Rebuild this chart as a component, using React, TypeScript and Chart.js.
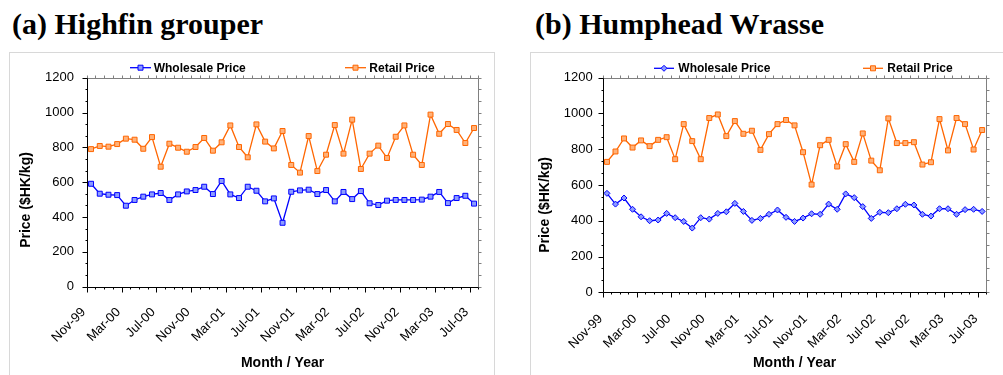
import React, { useEffect, useRef } from "react";
import { Chart, registerables } from "chart.js";

Chart.register(...registerables);

// ---------------- DATA ----------------
const months = [
  "Nov-99", "Dec-99",
  "Jan-00", "Feb-00", "Mar-00", "Apr-00", "May-00", "Jun-00", "Jul-00", "Aug-00", "Sep-00", "Oct-00", "Nov-00", "Dec-00",
  "Jan-01", "Feb-01", "Mar-01", "Apr-01", "May-01", "Jun-01", "Jul-01", "Aug-01", "Sep-01", "Oct-01", "Nov-01", "Dec-01",
  "Jan-02", "Feb-02", "Mar-02", "Apr-02", "May-02", "Jun-02", "Jul-02", "Aug-02", "Sep-02", "Oct-02", "Nov-02", "Dec-02",
  "Jan-03", "Feb-03", "Mar-03", "Apr-03", "May-03", "Jun-03", "Jul-03",
];

const grouperWholesale = [
  591, 534, 528, 526, 465, 498, 517, 530, 538, 498,
  530, 547, 555, 574, 532, 607, 530, 509, 574, 551,
  490, 507, 367, 545, 553, 557, 532, 555, 490, 544,
  503, 549, 479, 469, 494, 498, 498, 498, 500, 517,
  544, 480, 509, 522, 477,
];

const grouperRetail = [
  790, 808, 804, 819, 850, 844, 792, 859, 689, 821,
  798, 775, 802, 854, 781, 829, 926, 802, 743, 932,
  833, 794, 894, 699, 655, 865, 664, 758, 928, 764,
  959, 676, 764, 810, 739, 861, 926, 758, 699, 988,
  878, 934, 900, 825, 911,
];

const wrasseWholesale = [
  553, 493, 527, 464, 422, 400, 404, 441, 417, 396,
  359, 417, 409, 441, 450, 497, 452, 402, 413, 436,
  460, 419, 396, 415, 439, 436, 493, 464, 550, 529,
  479, 413, 447, 445, 467, 492, 488, 436, 426, 467,
  467, 436, 462, 464, 452,
];

const wrasseRetail = [
  729, 787, 860, 809, 849, 817, 852, 867, 744, 940,
  845, 744, 974, 994, 873, 957, 886, 903, 796, 884,
  940, 963, 933, 783, 602, 822, 852, 703, 828, 729,
  888, 736, 682, 972, 834, 834, 839, 714, 727, 968,
  793, 974, 940, 798, 907,
];

const seriesNames = ["Wholesale Price", "Retail Price"];
const yAxisTitle = "Price ($HK/kg)";
const xAxisTitle = "Month / Year";
const yMin = 0;
const yMax = 1200;
const yStep = 200;
const labelEvery = 4;

// ---------------- STYLE ----------------
const BLUE = "#0000FF";
const BLUE_FILL = "#8C9CFF";
const ORANGE = "#FF6600";
const ORANGE_FILL = "#FFB27A";
const SANS = '"Liberation Sans", Arial, sans-serif';
const SERIF = '"Liberation Serif", "Times New Roman", serif';

type LegendItem = { x1: number; x2: number; tx: number; text: string; color: string; fill: string; style: string };

const framePlugin = {
  id: "frame",
  afterDraw(chart: any, _args: any, opts: any) {
    const { ctx, chartArea: a, scales } = chart;
    const x = scales.x;
    const y = scales.y;
    ctx.save();
    // top / right border
    ctx.strokeStyle = "#808080";
    ctx.lineWidth = 1;
    ctx.beginPath();
    const topY = Math.round(a.top) + 0.5;
    const rightX = Math.round(a.right) + 0.5;
    ctx.moveTo(Math.round(a.left), topY);
    ctx.lineTo(rightX, topY);
    ctx.lineTo(rightX, Math.round(a.bottom));
    for (let i = 0; i <= months.length; i++) {
      const px = Math.round(x.getPixelForValue(i)) + 0.5;
      ctx.moveTo(px, topY);
      ctx.lineTo(px, topY - 3);
    }
    for (let k = 0; k <= 18; k++) {
      const v = yMin + (k * yStep) / 3;
      const py = Math.round(y.getPixelForValue(v)) + 0.5;
      ctx.moveTo(rightX, py);
      ctx.lineTo(rightX + 3, py);
    }
    ctx.stroke();

    // axes (black)
    ctx.strokeStyle = "#000";
    ctx.beginPath();
    const leftX = Math.round(a.left) + 0.5;
    const botY = Math.round(a.bottom) + 0.5;
    ctx.moveTo(leftX, topY);
    ctx.lineTo(leftX, botY);
    ctx.lineTo(rightX, botY);
    for (let i = 0; i <= months.length; i++) {
      const px = Math.round(x.getPixelForValue(i)) + 0.5;
      const len = i % labelEvery === 0 ? 5 : 2;
      ctx.moveTo(px, botY);
      ctx.lineTo(px, botY + len);
    }
    for (let k = 0; k <= 18; k++) {
      const v = yMin + (k * yStep) / 3;
      const py = Math.round(y.getPixelForValue(v)) + 0.5;
      const len = k % 3 === 0 ? 5 : 2;
      ctx.moveTo(leftX, py);
      ctx.lineTo(leftX - len, py);
    }
    ctx.stroke();

    // y axis title
    ctx.save();
    ctx.translate(opts.yTitleX, opts.yTitleY);
    ctx.rotate(-Math.PI / 2);
    ctx.fillStyle = "#000";
    ctx.font = `bold 14px ${SANS}`;
    ctx.textAlign = "center";
    ctx.textBaseline = "middle";
    ctx.fillText(yAxisTitle, 0, 0);
    ctx.restore();

    // legend
    const items: LegendItem[] = opts.items || [];
    const ly = opts.y;
    for (const it of items) {
      ctx.strokeStyle = it.color;
      ctx.lineWidth = 1.3;
      ctx.beginPath();
      ctx.moveTo(it.x1, ly);
      ctx.lineTo(it.x2, ly);
      ctx.stroke();
      const cx = (it.x1 + it.x2) / 2;
      ctx.fillStyle = it.fill;
      ctx.lineWidth = 1;
      ctx.beginPath();
      if (it.style === "rectRot") {
        ctx.moveTo(cx, ly - 3);
        ctx.lineTo(cx + 3, ly);
        ctx.lineTo(cx, ly + 3);
        ctx.lineTo(cx - 3, ly);
        ctx.closePath();
      } else {
        ctx.rect(cx - 2.5, ly - 2.5, 5, 5);
      }
      ctx.fill();
      ctx.stroke();
      ctx.fillStyle = "#000";
      ctx.font = `bold 12px ${SANS}`;
      ctx.textBaseline = "middle";
      ctx.textAlign = "left";
      ctx.fillText(it.text, it.tx, ly + 0.5);
    }
    ctx.restore();
  },
};

type PanelProps = {
  left: number;
  top: number;
  width: number;
  height: number;
  wholesale: number[];
  retail: number[];
  wholesaleStyle: string;
  yWidth: number;
  xHeight: number;
  padRight: number;
  padTop: number;
  yTitleX: number;
  yTitleY: number;
  xTitlePad: number;
  yTickPad: number;
  xTickPad: number;
  xLabelOffset: number;
  legend: LegendItem[];
  legendY: number;
};

function ChartPanel(p: PanelProps) {
  const ref = useRef<HTMLCanvasElement | null>(null);
  useEffect(() => {
    if (!ref.current) return;
    const toPts = (arr: number[]) => arr.map((v, i) => ({ x: i + 0.5, y: v }));
    const chart = new Chart(ref.current, {
      type: "line",
      data: {
        datasets: [
          {
            label: seriesNames[0],
            data: toPts(p.wholesale),
            borderColor: BLUE,
            backgroundColor: BLUE_FILL,
            pointBackgroundColor: BLUE_FILL,
            pointBorderColor: BLUE,
            pointStyle: p.wholesaleStyle as any,
            pointRadius: p.wholesaleStyle === "rectRot" ? 3 : 3.5,
            pointBorderWidth: 1,
            borderWidth: 1.3,
            tension: 0,
          },
          {
            label: seriesNames[1],
            data: toPts(p.retail),
            borderColor: ORANGE,
            backgroundColor: ORANGE_FILL,
            pointBackgroundColor: ORANGE_FILL,
            pointBorderColor: ORANGE,
            pointStyle: "rect",
            pointRadius: 3.5,
            pointBorderWidth: 1,
            borderWidth: 1.3,
            tension: 0,
          },
        ],
      },
      options: {
        animation: false,
        responsive: false,
        maintainAspectRatio: false,
        devicePixelRatio: 1,
        layout: { padding: { left: 0, right: p.padRight, top: p.padTop, bottom: 0 } },
        plugins: {
          legend: { display: false },
          tooltip: { enabled: false },
          frame: { items: p.legend, y: p.legendY, yTitleX: p.yTitleX, yTitleY: p.yTitleY },
        } as any,
        scales: {
          x: {
            type: "linear",
            min: 0,
            max: months.length,
            afterBuildTicks: (scale: any) => {
              scale.ticks = months
                .map((_, i) => ({ value: i }))
                .filter((t) => t.value % labelEvery === 0);
            },
            ticks: {
              autoSkip: false,
              minRotation: 45,
              maxRotation: 45,
              padding: p.xTickPad,
              labelOffset: p.xLabelOffset,
              color: "#000",
              font: { family: SANS, size: 13 },
              callback: (v: any) => months[Number(v)] ?? "",
            },
            grid: { display: false, drawTicks: true, tickLength: 5 },
            border: { display: false },
            title: {
              display: true,
              text: xAxisTitle,
              color: "#000",
              font: { family: SANS, size: 14, weight: "bold" },
              padding: { top: 0, bottom: p.xTitlePad },
            },
            afterFit: (s: any) => {
              s.height = p.xHeight;
            },
          },
          y: {
            type: "linear",
            min: yMin,
            max: yMax,
            ticks: {
              stepSize: yStep,
              padding: p.yTickPad,
              color: "#000",
              font: { family: SANS, size: 13 },
              callback: (v: any) => String(v),
            },
            grid: { display: false, drawTicks: true, tickLength: 5 },
            border: { display: false },
            title: { display: false },
            afterFit: (s: any) => {
              s.width = p.yWidth;
            },
          },
        },
      },
      plugins: [framePlugin],
    } as any);
    return () => chart.destroy();
  }, []);
  return (
    <canvas
      ref={ref}
      width={p.width}
      height={p.height}
      style={{ position: "absolute", left: p.left, top: p.top, width: p.width, height: p.height }}
    />
  );
}

const titleStyle: React.CSSProperties = {
  position: "absolute",
  top: 9,
  margin: 0,
  fontFamily: SERIF,
  fontWeight: "bold",
  fontSize: 30,
  lineHeight: "30px",
  color: "#000",
  whiteSpace: "nowrap",
};

export default function App() {
  return (
    <div
      style={{
        position: "absolute",
        left: 0,
        top: 0,
        width: 1003,
        height: 375,
        overflow: "hidden",
        background: "#fff",
      }}
    >
      <div style={{ ...titleStyle, left: 12 }}>(a) Highfin grouper</div>
      <div style={{ ...titleStyle, left: 535 }}>(b) Humphead Wrasse</div>
      <div
        style={{
          position: "absolute",
          left: 9,
          top: 52,
          width: 484,
          height: 330,
          borderTop: "1px solid #d8d8d8",
          borderLeft: "1px solid #d8d8d8",
          borderRight: "1px solid #d8d8d8",
        }}
      />
      <div
        style={{
          position: "absolute",
          left: 530,
          top: 52,
          width: 500,
          height: 330,
          borderTop: "1px solid #d8d8d8",
          borderLeft: "1px solid #d8d8d8",
        }}
      />
      <ChartPanel
        left={10}
        top={53}
        width={484}
        height={322}
        wholesale={grouperWholesale}
        retail={grouperRetail}
        wholesaleStyle="rect"
        yWidth={76.7}
        xHeight={88.3}
        padRight={12.5}
        padTop={24.7}
        yTitleX={16}
        yTitleY={147}
        xTitlePad={3.6}
        yTickPad={7.7}
        xTickPad={13}
        xLabelOffset={-3}
        legendY={14.7}
        legend={[
          { x1: 120, x2: 141, tx: 143.7, text: seriesNames[0], color: BLUE, fill: BLUE_FILL, style: "rect" },
          { x1: 335, x2: 356, tx: 359.3, text: seriesNames[1], color: ORANGE, fill: ORANGE_FILL, style: "rect" },
        ]}
      />
      <ChartPanel
        left={531}
        top={53}
        width={472}
        height={322}
        wholesale={wrasseWholesale}
        retail={wrasseRetail}
        wholesaleStyle="rectRot"
        yWidth={71.7}
        xHeight={82.7}
        padRight={4}
        padTop={24.6}
        yTitleX={14}
        yTitleY={152}
        xTitlePad={3.6}
        yTickPad={5}
        xTickPad={14}
        xLabelOffset={-2}
        legendY={15.3}
        legend={[
          { x1: 123, x2: 143, tx: 147.3, text: seriesNames[0], color: BLUE, fill: BLUE_FILL, style: "rectRot" },
          { x1: 332, x2: 352, tx: 356.3, text: seriesNames[1], color: ORANGE, fill: ORANGE_FILL, style: "rect" },
        ]}
      />
    </div>
  );
}
